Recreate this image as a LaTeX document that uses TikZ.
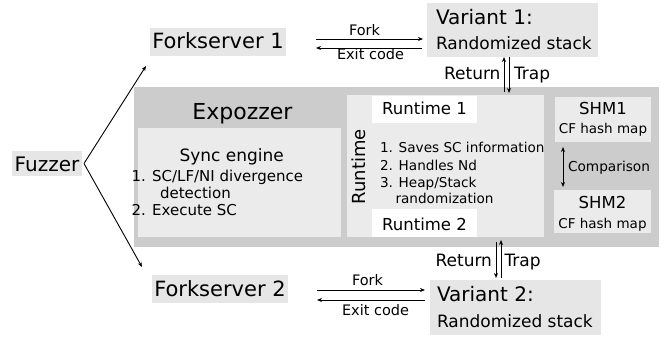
\documentclass[tikz,border=0pt]{standalone}
\usepackage{fontspec}
\setmainfont{DejaVu Sans}
\usetikzlibrary{arrows.meta,calc}
\definecolor{outergray}{HTML}{CCCCCC}
\definecolor{panel}{HTML}{EBEBEB}
\definecolor{tag}{HTML}{E6E6E6}

\begin{document}
\begin{tikzpicture}[x=1pt,y=-1pt,
  box/.style={draw=none, rectangle, inner sep=0pt, outer sep=0pt},
  txt/.style={inner sep=0pt, outer sep=0pt, anchor=base},
  txtl/.style={inner sep=0pt, outer sep=0pt, anchor=base west},
  txtr/.style={inner sep=0pt, outer sep=0pt, anchor=base east},
  fs/.style={font=\fontsize{#1}{#1}\selectfont},
  arr/.style={line width=0.9pt, -{Stealth[length=5pt,width=4pt]}},
  darr/.style={line width=0.9pt, {Stealth[length=5pt,width=4pt]}-{Stealth[length=5pt,width=4pt]}},
]
\useasboundingbox (0,0) rectangle (665,337);

% ---- boxes ----
\node[box, fill=tag, minimum width=70pt, minimum height=25pt] (fuzzer) at (47,163.5) {};
\node[box, fill=tag, minimum width=136pt, minimum height=28pt] (fs1) at (218,42) {};
\node[box, fill=tag, minimum width=136pt, minimum height=28pt] (fs2) at (220,289) {};
\node[box, fill=tag, minimum width=171pt, minimum height=54pt] (v1) at (512.5,30) {};
\node[box, fill=tag, minimum width=171pt, minimum height=55pt] (v2) at (515.5,307.5) {};
\node[box, fill=outergray, minimum width=525pt, minimum height=160pt] (expo) at (396.5,167) {};
\node[box, fill=panel, minimum width=203pt, minimum height=109pt] (sync) at (239.5,182.5) {};
\node[box, fill=panel, minimum width=197pt, minimum height=142pt] (rt) at (445.5,166) {};
\node[box, fill=white, minimum width=105pt, minimum height=27pt] (rt1) at (424.5,109.5) {};
\node[box, fill=white, minimum width=105pt, minimum height=28pt] (rt2) at (424.5,223) {};
\node[box, fill=panel, minimum width=96pt, minimum height=45pt] (shm1) at (603,119.5) {};
\node[box, fill=panel, minimum width=97pt, minimum height=43pt] (shm2) at (602.5,211.5) {};

% ---- texts ----
\node[txt, fs=20] (fuzzert) at (47,171.5) {Fuzzer};
\node[txt, fs=21] (fs1t) at (218,48.3) {Forkserver 1};
\node[txt, fs=21] (fs2t) at (220,296) {Forkserver 2};
\node[txtl, fs=20] (v1a) at (436,25) {Variant 1:};
\node[txtl, fs=17] (v1b) at (436,50) {Randomized stack};
\node[txtl, fs=20] (v2a) at (437,301.7) {Variant 2:};
\node[txtl, fs=17] (v2b) at (437,327) {Randomized stack};
\node[txt, fs=22] (expot) at (242.5,120) {Expozzer};
\node[txt, fs=17] (synct) at (231.7,161.7) {Sync engine};
\node[txtl, fs=15] (sl1) at (131.5,181.7) {1. SC/LF/NI divergence};
\node[txtl, fs=15] (sl2) at (160,198.3) {detection};
\node[txtl, fs=15] (sl3) at (131.5,215) {2. Execute SC};
\node[txt, fs=18, rotate=90] (rtt) at (365,166.7) {Runtime};
\node[txt, fs=16.5] (rt1t) at (424.5,115) {Runtime 1};
\node[txt, fs=16.5] (rt2t) at (424.5,230) {Runtime 2};
\node[txtl, fs=13.6] (rl1) at (380,152.7) {1. Saves SC information};
\node[txtl, fs=13.6] (rl2) at (380,170.7) {2. Handles Nd};
\node[txtl, fs=13.6] (rl3) at (380,187.3) {3. Heap/Stack};
\node[txtl, fs=13.6] (rl4) at (395.5,204) {randomization};
\node[txt, fs=16.5] (shm1a) at (603,115) {SHM1};
\node[txt, fs=13.5] (shm1b) at (603,133.3) {CF hash map};
\node[txt, fs=16.5] (shm2a) at (602.5,208.3) {SHM2};
\node[txt, fs=13.5] (shm2b) at (602.5,228.3) {CF hash map};
\node[txtl, fs=13.7] (cmp) at (568,171.7) {Comparison};

% ---- Fuzzer to forkservers ----
\coordinate (f1end) at (146,66);
\coordinate (f2end) at (142,267);
\draw[arr] ([xshift=2pt]fuzzer.east) -- (f1end);
\draw[arr] ([xshift=2pt]fuzzer.east) -- (f2end);

% ---- forkserver <-> variant ----
\draw[arr, shorten <=30pt, shorten >=4pt] ([yshift=3pt]fs1.east) -- ([yshift=3pt]fs1.east -| v1.west);
\draw[arr, shorten <=5pt, shorten >=30pt] ([yshift=-6pt]fs1.east -| v1.west) -- ([yshift=-6pt]fs1.east);
\node[txtl, fs=14.5] (fork1) at (349,36) {Fork};
\node[txtl, fs=14.5] (exit1) at (337,59.3) {Exit code};

\draw[arr, shorten <=29pt, shorten >=5pt] ([yshift=-1pt]fs2.east) -- ([yshift=-1pt]fs2.east -| v2.west);
\draw[arr, shorten <=5pt, shorten >=29pt] ([yshift=-11pt]fs2.east -| v2.west) -- ([yshift=-11pt]fs2.east);
\node[txtl, fs=14.5] (fork2) at (352,285) {Fork};
\node[txtl, fs=14.5] (exit2) at (342,315) {Exit code};

% ---- variant <-> runtime ----
\draw[arr, shorten <=3pt] ([xshift=-8.5pt]v1.south |- rt.north) -- ([xshift=-8.5pt]v1.south);
\draw[arr, shorten >=2pt] ([xshift=-3.5pt]v1.south) -- ([xshift=-3.5pt]v1.south |- rt.north);
\node[txtr, fs=17] (ret1) at (500.5,80) {Return};
\node[txtl, fs=17] (trap1) at (514,80) {Trap};

\draw[arr, shorten <=5pt, shorten >=2pt] ([xshift=-19.5pt]v2.north |- rt.south) -- ([xshift=-19.5pt]v2.north);
\draw[arr, shorten <=2pt, shorten >=3pt] ([xshift=-14.5pt]v2.north) -- ([xshift=-14.5pt]v2.north |- rt.south);
\node[txtr, fs=17] (ret2) at (492,266.7) {Return};
\node[txtl, fs=17] (trap2) at (504.5,266.7) {Trap};

% ---- SHM comparison ----
\draw[darr, shorten <=5pt, shorten >=3pt] ([xshift=-40pt]shm1.south) -- ([xshift=-40pt]shm1.south |- shm2.north);
\end{tikzpicture}
\end{document}
